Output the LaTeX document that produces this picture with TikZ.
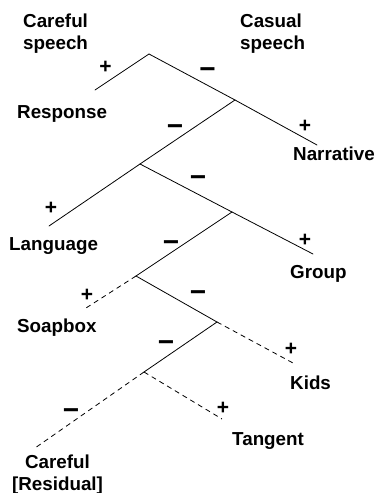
\documentclass[tikz,border=0pt]{standalone}
\usepackage{fontspec}
\setmainfont{Liberation Sans}
\begin{document}
\begin{tikzpicture}[x=1bp,y=-1bp,
  lbl/.style={font=\bfseries\fontsize{18.8bp}{21.5bp}\selectfont, inner sep=0pt},
  plus/.style={font=\bfseries\fontsize{21bp}{21bp}\selectfont, inner sep=0pt, anchor=base},
  minus/.style={font=\bfseries\fontsize{28bp}{28bp}\selectfont, inner sep=0pt, anchor=base},
  branch/.style={line width=0.8bp, line cap=round},
  weak/.style={line width=0.8bp, dash pattern=on 5bp off 4bp}]
\useasboundingbox (0,0) rectangle (377,493);
% junctions and branch ends
\coordinate (n1) at (149,54);
\coordinate (resp) at (95,90);
\coordinate (n2) at (235,100);
\coordinate (narr) at (317,145);
\coordinate (n3) at (140,164);
\coordinate (lang) at (49,226);
\coordinate (n4) at (232,212);
\coordinate (grp) at (313,254);
\coordinate (n5) at (136,276);
\coordinate (soap) at (86,308);
\coordinate (n6) at (217,322);
\coordinate (kids) at (293,363);
\coordinate (n7) at (144,372);
\coordinate (tang) at (222,419);
\coordinate (resid) at (35,448);
% branches
\draw[branch] (n1) -- (resp);
\draw[branch] (n1) -- (n2);
\draw[branch] (n2) -- (narr);
\draw[branch] (n2) -- (n3);
\draw[branch] (n3) -- (lang);
\draw[branch] (n3) -- (n4);
\draw[branch] (n4) -- (grp);
\draw[branch] (n4) -- (n5);
\draw[weak] (n5) -- (soap);
\draw[branch] (n5) -- (n6);
\draw[weak] (n6) -- (kids);
\draw[branch] (n6) -- (n7);
\draw[weak] (n7) -- (tang);
\draw[weak] (n7) -- (resid);
% signs
\node[plus] (p1) at (105.5,74) {+};
\node[minus] (m1) at (207.5,79) {−};
\node[minus] (m2) at (175,136) {−};
\node[plus] (p2) at (305,133) {+};
\node[minus] (m3) at (198,187) {−};
\node[plus] (p3) at (51,214) {+};
\node[minus] (m4) at (171,251) {−};
\node[plus] (p4) at (305,246) {+};
\node[minus] (m5) at (198,301) {−};
\node[plus] (p5) at (87,301) {+};
\node[minus] (m6) at (166,351) {−};
\node[plus] (p6) at (291,355) {+};
\node[minus] (m7) at (71,419) {−};
\node[plus] (p7) at (223,414) {+};
% labels
\node[lbl, anchor=north west, align=left] (careful) at (23,14) {Careful\\speech};
\node[lbl, anchor=north west, align=left] (casual) at (240,14) {Casual\\speech};
\node[lbl, anchor=base west] (response) at (17,119) {Response};
\node[lbl, anchor=base west] (narrative) at (293,161) {Narrative};
\node[lbl, anchor=base west] (language) at (9,250) {Language};
\node[lbl, anchor=base west] (group) at (290,278) {Group};
\node[lbl, anchor=base west] (soapbox) at (17,332) {Soapbox};
\node[lbl, anchor=base west] (kidslbl) at (290,389) {Kids};
\node[lbl, anchor=base west] (tangent) at (232,445) {Tangent};
\node[lbl, anchor=north, align=center] (residual) at (57.5,455) {Careful\\{[Residual]}};
\end{tikzpicture}
\end{document}
